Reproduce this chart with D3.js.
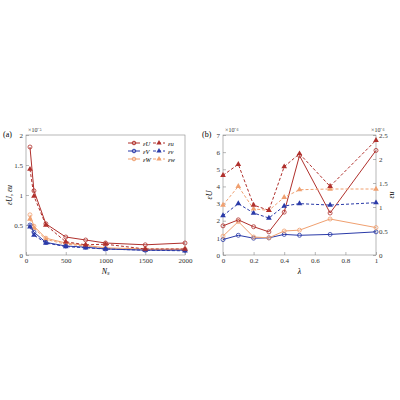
<!DOCTYPE html><html><head><script src="https://cdn.jsdelivr.net/npm/d3@7"></script>
<style>body{margin:0;background:#fff}text{font-family:"Liberation Serif",serif}</style></head><body><svg id="c" width="400" height="400"></svg>
<script>
const nsX=[50,100,250,500,750,1000,1500,2000];
const aEU=[1.8,1.07,0.52,0.3,0.25,0.2,0.17,0.2];
const aEu=[1.43,0.98,0.5,0.22,0.17,0.18,0.1,0.1];
const aEV=[0.5,0.38,0.21,0.15,0.13,0.1,0.08,0.08];
const aEv=[0.47,0.33,0.2,0.14,0.12,0.1,0.08,0.07];
const aEW=[0.67,0.48,0.28,0.2,0.16,0.12,0.1,0.1];
const aEw=[0.6,0.45,0.26,0.18,0.15,0.11,0.09,0.09];
const lam=[0,0.1,0.2,0.3,0.4,0.5,0.7,1];
const bEU=[1.7,2.05,1.65,1.35,2.5,5.8,2.45,6.1];
const bEV=[0.9,1.15,0.98,1.0,1.2,1.15,1.2,1.35];
const bEW=[1.1,1.95,1.05,1.0,1.4,1.45,2.1,1.6];
const bEu=[1.66,1.89,1.04,0.93,1.84,2.11,1.43,2.39];
const bEv=[0.82,1.07,0.875,0.77,1.02,1.07,1.04,1.09];
const bEw=[1.04,1.43,0.96,0.93,1.2,1.36,1.375,1.375];
const RED="#b0302c",BLUE="#2a3aa8",ORA="#f0a070";
const svg=d3.select("#c");
const fmt=d=>String(d);
function frame(L,R,T,B){
  const g=svg.append("g");
  g.append("rect").attr("x",L).attr("y",T).attr("width",R-L).attr("height",B-T).attr("fill","none").attr("stroke","#888").attr("stroke-width",0.6);
  return g;
}
function axis(g,ax,tr){const a=g.append("g").attr("transform",tr).call(ax);a.attr("font-family","Liberation Serif").attr("font-size",7);a.selectAll("text").attr("fill","#333");a.selectAll("path,line").attr("stroke","#888").attr("stroke-width",0.6);a.select(".domain").remove();return a;}
function series(g,x,y,xs,ys,col,dash,tri){
  g.append("path").datum(ys).attr("fill","none").attr("stroke",col).attr("stroke-width",1)
   .attr("stroke-dasharray",dash?"3,2":null).attr("d",d3.line().x((d,i)=>x(xs[i])).y(d=>y(d)));
  ys.forEach((d,i)=>{
    if(tri) g.append("path").attr("d",d3.symbol(d3.symbolTriangle,14)()).attr("transform",`translate(${x(xs[i])},${y(d)})`).attr("fill",col);
    else g.append("circle").attr("cx",x(xs[i])).attr("cy",y(d)).attr("r",2).attr("fill","none").attr("stroke",col).attr("stroke-width",0.8);
  });
}
{const L=26,R=185,T=135,B=255;const g=frame(L,R,T,B);
const x=d3.scaleLinear().domain([0,2000]).range([L,R]);const y=d3.scaleLinear().domain([0,2]).range([B,T]);
axis(g,d3.axisBottom(x).tickValues([0,500,1000,1500,2000]).tickFormat(fmt).tickSize(-3).tickPadding(3),`translate(0,${B})`);
axis(g,d3.axisLeft(y).tickValues([0,0.5,1,1.5,2]).tickFormat(fmt).tickSize(-3).tickPadding(3),`translate(${L},0)`);
g.append("text").attr("x",L+2).attr("y",T-3).attr("font-size",6).attr("fill","#333").text("×10⁻⁵");
g.append("text").attr("x",3).attr("y",T+2).attr("font-size",8).text("(a)");
g.append("text").attr("x",(L+R)/2).attr("y",B+19).attr("font-size",8).attr("text-anchor","middle").attr("font-style","italic").text("Nₛ");
g.append("text").attr("transform",`translate(12,${(T+B)/2}) rotate(-90)`).attr("font-size",8).attr("text-anchor","middle").attr("font-style","italic").text("εU, εu");
[[aEW,ORA,0,0],[aEw,ORA,1,1],[aEV,BLUE,0,0],[aEv,BLUE,1,1],[aEU,RED,0,0],[aEu,RED,1,1]].forEach(s=>series(g,x,y,nsX,s[0],s[1],s[2],s[3]));
const leg=[["εU",RED,0,0,128,143],["εu",RED,1,1,153,143],["εV",BLUE,0,0,128,151],["εv",BLUE,1,1,153,151],["εW",ORA,0,0,128,159],["εw",ORA,1,1,153,159]];
leg.forEach(l=>{g.append("line").attr("x1",l[4]).attr("x2",l[4]+12).attr("y1",l[5]).attr("y2",l[5]).attr("stroke",l[1]).attr("stroke-dasharray",l[2]?"3,2":null);
 if(l[3])g.append("path").attr("d",d3.symbol(d3.symbolTriangle,12)()).attr("transform",`translate(${l[4]+6},${l[5]})`).attr("fill",l[1]);
 else g.append("circle").attr("cx",l[4]+6).attr("cy",l[5]).attr("r",1.8).attr("fill","none").attr("stroke",l[1]);
 g.append("text").attr("x",l[4]+15).attr("y",l[5]+2.5).attr("font-size",6.5).attr("font-style","italic").text(l[0]);});
}
{const L=223,R=376,T=135,B=255;const g=frame(L,R,T,B);
const x=d3.scaleLinear().domain([0,1]).range([L,R]);const y=d3.scaleLinear().domain([0,7]).range([B,T]);const y2=d3.scaleLinear().domain([0,2.5]).range([B,T]);
axis(g,d3.axisBottom(x).tickValues([0,0.2,0.4,0.6,0.8,1]).tickFormat(fmt).tickSize(-3).tickPadding(3),`translate(0,${B})`);
axis(g,d3.axisLeft(y).ticks(7).tickFormat(fmt).tickSize(-3).tickPadding(3),`translate(${L},0)`);
axis(g,d3.axisRight(y2).tickValues([0,0.5,1,1.5,2,2.5]).tickFormat(fmt).tickSize(-3).tickPadding(3),`translate(${R},0)`);
g.append("text").attr("x",L+2).attr("y",T-3).attr("font-size",6).attr("fill","#333").text("×10⁻⁶");
g.append("text").attr("x",R-5).attr("y",T-3).attr("font-size",6).attr("fill","#333").text("×10⁻⁶");
g.append("text").attr("x",202).attr("y",T+2).attr("font-size",8).text("(b)");
g.append("text").attr("x",(L+R)/2).attr("y",B+19).attr("font-size",8).attr("text-anchor","middle").attr("font-style","italic").text("λ");
g.append("text").attr("transform",`translate(212,${(T+B)/2}) rotate(-90)`).attr("font-size",8).attr("text-anchor","middle").attr("font-style","italic").text("εU");
g.append("text").attr("transform",`translate(394,${(T+B)/2}) rotate(-90)`).attr("font-size",8).attr("text-anchor","middle").attr("font-style","italic").text("εu");
[[bEV,BLUE,0,0,y],[bEW,ORA,0,0,y],[bEU,RED,0,0,y],[bEv,BLUE,1,1,y2],[bEw,ORA,1,1,y2],[bEu,RED,1,1,y2]].forEach(s=>series(g,x,s[4],lam,s[0],s[1],s[2],s[3]));
}
</script></body></html>
